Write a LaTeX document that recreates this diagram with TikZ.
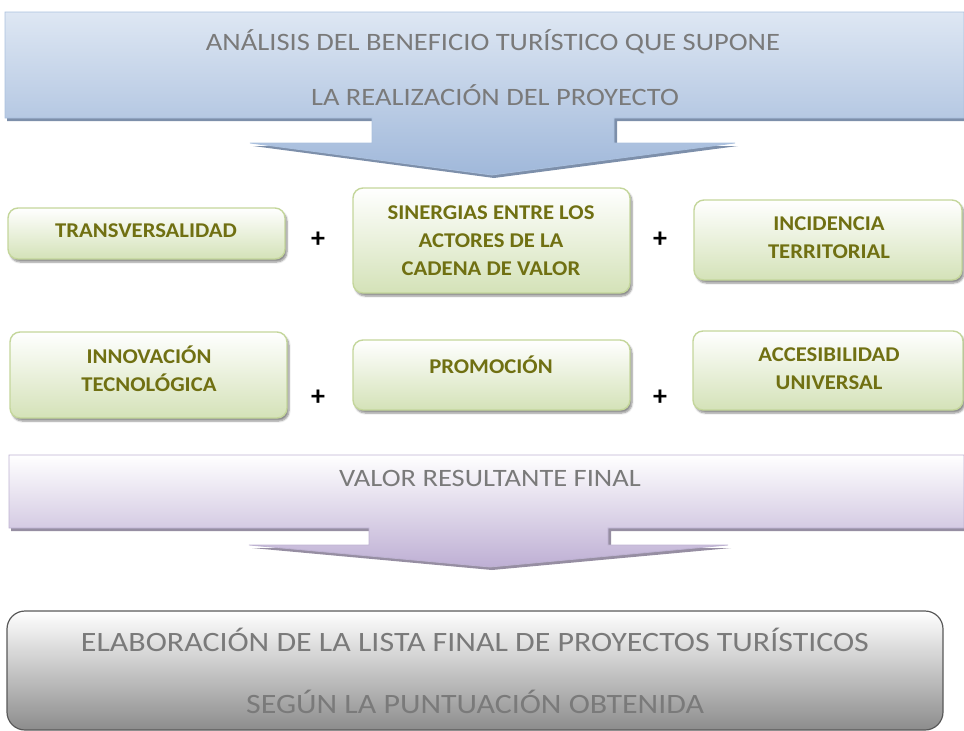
\documentclass[tikz,border=0pt]{standalone}
\usepackage{fontspec}
\setmainfont{Carlito}
\newfontfamily\widefont[FakeStretch=1.14]{Carlito}
\newfontfamily\gfont[FakeStretch=1.08]{Carlito}
\usetikzlibrary{shadows.blur}
\definecolor{olivetxt}{RGB}{112,112,18}
\definecolor{gborder}{RGB}{196,214,155}
\definecolor{gbottom}{RGB}{212,226,184}
\definecolor{bluetop}{RGB}{222,231,243}
\definecolor{bluebot}{RGB}{160,184,218}
\definecolor{blueline}{RGB}{170,192,222}
\definecolor{blueshadow}{RGB}{125,143,170}
\definecolor{purptop}{RGB}{255,255,255}
\definecolor{purpbot}{RGB}{190,175,212}
\definecolor{purpline}{RGB}{190,178,210}
\definecolor{purpshadow}{RGB}{150,142,162}
\definecolor{graytxt}{RGB}{122,122,122}
\tikzset{
  gbox/.style={draw=gborder, line width=1.4pt, rounded corners=10pt, top color=white, bottom color=gbottom,
    blur shadow={shadow xshift=2pt, shadow yshift=-3pt, shadow blur steps=6, shadow opacity=45}},
  gtext/.style={text=olivetxt, font=\gfont\bfseries\fontsize{21}{28}\selectfont, align=center, inner sep=0pt},
  plus/.style={font=\bfseries\fontsize{28}{28}\selectfont, inner sep=0pt},
  ctext/.style={text=graytxt, font=\widefont\fontsize{25}{25}\selectfont, inner sep=0pt},
  ftext/.style={text=graytxt, font=\widefont\fontsize{28}{28}\selectfont, inner sep=0pt},
}
\begin{document}
\begin{tikzpicture}[x=1pt,y=-1pt]
\useasboundingbox (0,0) rectangle (964,731);
% top callout
\fill[blueshadow] (7,15) -- (964,15) -- (964,121) -- (617,121) -- (617,146) -- (738,146) -- (494,178) -- (253,146) -- (375,146) -- (375,121) -- (7,121) -- cycle;
\shade[top color=bluetop, bottom color=bluebot, draw=blueline, line width=0.8pt]
  (5,12) -- (964,12) -- (964,118) -- (614,118) -- (614,143) -- (735,143) -- (492,175) -- (250,143) -- (372,143) -- (372,118) -- (5,118) -- cycle;
\node[ctext] (t1) at (493,42) {ANÁLISIS DEL BENEFICIO TURÍSTICO QUE SUPONE};
\node[ctext] (t2) at (495,95) {LA REALIZACIÓN DEL PROYECTO};
% green boxes row 1
\node[gbox, minimum width=277pt, minimum height=51pt] (b1) at (146.5,233.5) {};
\node[gtext] (b1t) at (146,231) {TRANSVERSALIDAD};
\node[gbox, minimum width=277pt, minimum height=105pt] (b2) at (491.5,240.5) {};
\node[gtext] (b2t) at (491,241) {SINERGIAS ENTRE LOS\\ACTORES DE LA\\CADENA DE VALOR};
\node[gbox, minimum width=268pt, minimum height=80pt] (b3) at (828,240) {};
\node[gtext] (b3t) at (829,238) {INCIDENCIA\\TERRITORIAL};
\node[plus] (p1) at (318,240) {+};
\node[plus] (p2) at (660,240) {+};
% green boxes row 2
\node[gbox, minimum width=277pt, minimum height=86pt] (b4) at (148.5,375) {};
\node[gtext] (b4t) at (149,368.5) {INNOVACIÓN\\TECNOLÓGICA};
\node[gbox, minimum width=277pt, minimum height=70pt] (b5) at (491.5,375) {};
\node[gtext] (b5t) at (491,365) {PROMOCIÓN};
\node[gbox, minimum width=270pt, minimum height=79pt] (b6) at (828,370.5) {};
\node[gtext] (b6t) at (829,368.5) {ACCESIBILIDAD\\UNIVERSAL};
\node[plus] (p3) at (318,398) {+};
\node[plus] (p4) at (660,398) {+};
% purple callout
\fill[purpshadow] (11,458) -- (964,458) -- (964,531) -- (611,531) -- (611,548) -- (731,548) -- (492,570) -- (252,548) -- (372,548) -- (372,531) -- (11,531) -- cycle;
\shade[top color=purptop, bottom color=purpbot, draw=purpline, line width=0.8pt]
  (9,455) -- (964,455) -- (964,528) -- (608,528) -- (608,545) -- (728,545) -- (490,567) -- (249,545) -- (369,545) -- (369,528) -- (9,528) -- cycle;
\node[ctext] (v1) at (490,478) {VALOR RESULTANTE FINAL};
% final box
\shade[top color=white, bottom color=black!45, draw=black!65, line width=1.2pt, rounded corners=18pt]
  (7,611) rectangle (943,730);
\node[ftext] (f1) at (475,640) {ELABORACIÓN DE LA LISTA FINAL DE PROYECTOS TURÍSTICOS};
\node[ftext] (f2) at (475,702) {SEGÚN LA PUNTUACIÓN OBTENIDA};
\end{tikzpicture}
\end{document}
